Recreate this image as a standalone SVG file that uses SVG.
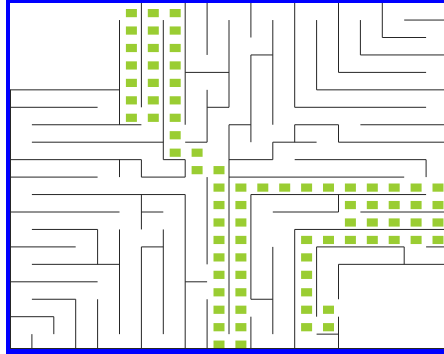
<svg xmlns="http://www.w3.org/2000/svg" xmlns:xlink="http://www.w3.org/1999/xlink" width="444" height="354" viewBox="0 0 444 354">
<style>
.w{stroke:#262626;stroke-width:1;fill:none}
.sq{fill:#9acd32}
.b{fill:#0000ff}
</style>
<defs><rect id="s" class="sq" width="11" height="8.2"/></defs>
<rect width="444" height="354" fill="#fff"/>
<g id="squares">
<use href="#s" x="125.9" y="9"/><use href="#s" x="125.9" y="26.45"/><use href="#s" x="125.9" y="43.9"/><use href="#s" x="125.9" y="61.35"/><use href="#s" x="125.9" y="78.8"/><use href="#s" x="125.9" y="96.25"/><use href="#s" x="125.9" y="113.7"/>
<use href="#s" x="147.8" y="9"/><use href="#s" x="147.8" y="26.45"/><use href="#s" x="147.8" y="43.9"/><use href="#s" x="147.8" y="61.35"/><use href="#s" x="147.8" y="78.8"/><use href="#s" x="147.8" y="96.25"/><use href="#s" x="147.8" y="113.7"/>
<use href="#s" x="169.7" y="9"/><use href="#s" x="169.7" y="26.45"/><use href="#s" x="169.7" y="43.9"/><use href="#s" x="169.7" y="61.35"/><use href="#s" x="169.7" y="78.8"/><use href="#s" x="169.7" y="96.25"/><use href="#s" x="169.7" y="113.7"/><use href="#s" x="169.7" y="131.15"/><use href="#s" x="169.7" y="148.6"/>
<use href="#s" x="191.6" y="148.6"/><use href="#s" x="191.6" y="166.05"/>
<use href="#s" x="213.5" y="166.05"/><use href="#s" x="213.5" y="183.5"/><use href="#s" x="213.5" y="200.95"/><use href="#s" x="213.5" y="218.4"/><use href="#s" x="213.5" y="235.85"/><use href="#s" x="213.5" y="253.3"/><use href="#s" x="213.5" y="270.75"/><use href="#s" x="213.5" y="288.2"/><use href="#s" x="213.5" y="305.65"/><use href="#s" x="213.5" y="323.1"/><use href="#s" x="213.5" y="340.55"/>
<use href="#s" x="235.4" y="183.5"/><use href="#s" x="235.4" y="200.95"/><use href="#s" x="235.4" y="218.4"/><use href="#s" x="235.4" y="235.85"/><use href="#s" x="235.4" y="253.3"/><use href="#s" x="235.4" y="270.75"/><use href="#s" x="235.4" y="288.2"/><use href="#s" x="235.4" y="305.65"/><use href="#s" x="235.4" y="323.1"/><use href="#s" x="235.4" y="340.55"/>
<use href="#s" x="257.3" y="183.5"/><use href="#s" x="279.2" y="183.5"/><use href="#s" x="301.1" y="183.5"/><use href="#s" x="323" y="183.5"/><use href="#s" x="344.9" y="183.5"/><use href="#s" x="366.8" y="183.5"/><use href="#s" x="388.7" y="183.5"/><use href="#s" x="410.6" y="183.5"/><use href="#s" x="432.5" y="183.5"/>
<use href="#s" x="344.9" y="200.95"/><use href="#s" x="366.8" y="200.95"/><use href="#s" x="388.7" y="200.95"/><use href="#s" x="410.6" y="200.95"/><use href="#s" x="432.5" y="200.95"/>
<use href="#s" x="344.9" y="218.4"/><use href="#s" x="366.8" y="218.4"/><use href="#s" x="388.7" y="218.4"/><use href="#s" x="410.6" y="218.4"/><use href="#s" x="432.5" y="218.4"/>
<use href="#s" x="301.1" y="235.85"/><use href="#s" x="323" y="235.85"/><use href="#s" x="344.9" y="235.85"/><use href="#s" x="366.8" y="235.85"/><use href="#s" x="388.7" y="235.85"/><use href="#s" x="410.6" y="235.85"/><use href="#s" x="432.5" y="235.85"/>
<use href="#s" x="301.1" y="253.3"/><use href="#s" x="301.1" y="270.75"/><use href="#s" x="301.1" y="288.2"/><use href="#s" x="301.1" y="305.65"/><use href="#s" x="301.1" y="323.1"/>
<use href="#s" x="323" y="305.65"/><use href="#s" x="323" y="323.1"/>
</g>
<g id="walls" class="w">
<path d="M10 89.85H119.5 M10 107.3H97.6 M185.2 72.4H229 M207.1 107.3H229 M250.9 54.95H272.8 M294.7 107.3H426.1 M316.6 89.85H448 M338.5 72.4H426.1 M360.4 54.95H448 M382.3 37.5H426.1 M404.2 20.05H448
M31.9 124.75H141.4 M31.9 142.2H163.3 M10 159.65H141.4 M10 177.1H97.6 M141.4 177.1H185.2 M31.9 194.55H185.2 M10 212H119.5 M141.4 212H163.3 M31.9 229.45H97.6
M10 246.9H75.7 M31.9 264.35H119.5 M10 281.8H97.6 M31.9 299.25H75.7 M10 316.7H53.8 M141.4 246.9H163.3 M185.2 281.8H207.1 M250.9 299.25H272.8
M163.3 159.65H185.2 M185.2 142.2H207.1 M229 124.75H250.9 M272.8 142.2H316.6 M229 159.65H272.8 M294.7 124.75H338.5 M338.5 142.2H448 M360.4 124.75H448 M294.7 159.65H426.1
M229 177.1H404.2 M250.9 194.55H426.1 M272.8 212H338.5 M360.4 212H448 M294.7 229.45H448 M316.6 246.9H404.2 M426.1 246.9H448 M338.5 264.35H448 M316.6 334.15H338.5
M10.5 89.85V351.6 M119.5 20.05V124.75 M141.4 2.6V107.3 M163.3 20.05V159.65 M185.2 2.6V124.75 M207.1 2.6V54.95 M207.1 89.85V142.2 M229 20.05V107.3 M250.9 2.6V37.5 M250.9 54.95V142.2 M272.8 20.05V124.75 M294.7 2.6V107.3 M316.6 20.05V89.85 M338.5 2.6V72.4 M360.4 20.05V54.95 M382.3 2.6V37.5
M119.5 159.65V177.1 M141.4 159.65V177.1 M185.2 159.65V177.1 M141.4 194.55V229.45 M97.6 229.45V264.35 M119.5 229.45V334.15 M141.4 246.9V351.6 M75.7 299.25V351.6 M97.6 299.25V351.6 M53.8 316.7V334.15 M31.9 334.15V351.6
M163.3 229.45V334.15 M185.2 194.55V351.6 M207.1 177.1V264.35 M207.1 299.25V351.6 M229 124.75V334.15 M250.9 194.55V299.25 M250.9 316.7V351.6 M272.8 246.9V334.15 M272.8 142.2V159.65
M294.7 124.75V142.2 M338.5 124.75V142.2 M426.1 159.65V177.1 M294.7 229.45V351.6 M316.6 246.9V316.7 M404.2 246.9V264.35 M338.5 264.35V299.25 M338.5 316.7V351.6 M338.5 194.55V212
M10 348.5H444"/>
</g>
<g id="frame">
<rect class="b" x="6" y="0" width="4" height="354"/>
<rect class="b" x="6" y="0" width="438" height="3"/>
<rect class="b" x="6" y="349" width="438" height="5"/>
</g>
</svg>
